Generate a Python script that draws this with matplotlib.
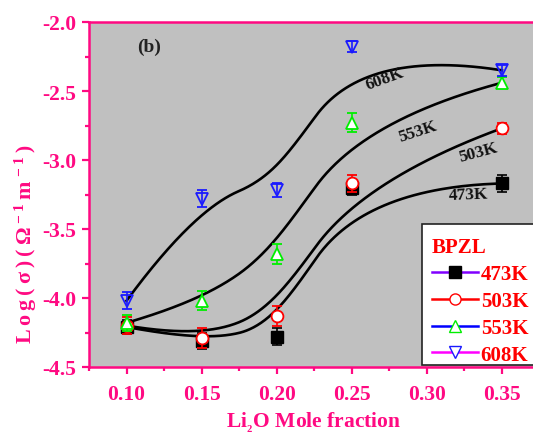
import numpy as np
import matplotlib
matplotlib.use("Agg")
import matplotlib.pyplot as plt
from matplotlib.lines import Line2D
from matplotlib.patches import Rectangle

# ---------------- data ----------------
x = [0.10, 0.15, 0.20, 0.25, 0.35]
y_473 = [-4.21, -4.31, -4.28, -3.20, -3.17]
y_503 = [-4.20, -4.29, -4.13, -3.17, -2.77]
y_553 = [-4.18, -4.02, -3.68, -2.73, -2.44]
y_608 = [-4.02, -3.28, -3.22, -2.18, -2.35]
err_473 = [0.05, 0.06, 0.06, 0.05, 0.06]
err_503 = [0.06, 0.07, 0.07, 0.06, 0.04]
err_553 = [0.06, 0.07, 0.07, 0.07, 0.04]
err_608 = [0.06, 0.06, 0.05, 0.04, 0.04]
labels = ["473K", "503K", "553K", "608K"]
xticks = [0.10, 0.15, 0.20, 0.25, 0.30, 0.35]
yticks = [-2.0, -2.5, -3.0, -3.5, -4.0, -4.5]

PINK = "#FF0A82"

plt.rcParams['font.family'] = ['Liberation Serif', 'DejaVu Serif']
plt.rcParams['font.weight'] = 'bold'
plt.rcParams['mathtext.fontset'] = 'custom'
plt.rcParams['mathtext.rm'] = 'Liberation Serif:bold'
plt.rcParams['mathtext.it'] = 'Liberation Serif:bold'
plt.rcParams['mathtext.bf'] = 'Liberation Serif:bold'


def bspline(px, py, k, n=300):
    """Clamped B-spline using the data points as control points."""
    P = np.column_stack([px, py])
    m = len(P)
    inner = np.linspace(0, 1, m - k + 1)[1:-1]
    t = np.concatenate([[0] * (k + 1), inner, [1] * (k + 1)])
    us = np.linspace(0, 1, n)
    out = []
    for u in us:
        N = np.zeros(len(t) - 1)
        for i in range(len(t) - 1):
            if t[i] <= u < t[i + 1] or (u == 1 and t[i] < t[i + 1] == 1):
                N[i] = 1.0
        for d in range(1, k + 1):
            Nn = np.zeros(len(t) - 1 - d)
            for i in range(len(Nn)):
                a = 0.0
                if t[i + d] != t[i]:
                    a = (u - t[i]) / (t[i + d] - t[i]) * N[i]
                b = 0.0
                if t[i + d + 1] != t[i + 1]:
                    b = (t[i + d + 1] - u) / (t[i + d + 1] - t[i + 1]) * N[i + 1]
                Nn[i] = a + b
            N = Nn
        out.append(N[:m] @ P)
    out = np.array(out)
    return out[:, 0], out[:, 1]


def smooth_curve(px, py):
    x2, y2 = bspline(px, py, 2)
    x3, y3 = bspline(px, py, 3)
    return 0.5 * (x2 + x3), 0.5 * (y2 + y3)


fig = plt.figure(figsize=(5.33, 4.35), dpi=100)
ax = fig.add_axes([89 / 533, (435 - 368) / 435, (533 - 89) / 533, (368 - 23) / 435])
ax.set_facecolor("#C0C0C0")

# fitted curves
for ys in [y_473, y_503, y_553, y_608]:
    cx, cy = smooth_curve(x, ys)
    ax.plot(cx, cy, color="black", lw=1.9, zorder=2)

# data points with error bars
ax.errorbar(x, y_473, yerr=err_473, fmt='s', ms=8, mfc='black', mec='black',
            ecolor='black', elinewidth=1.2, capsize=3.5, capthick=1.2, zorder=3)
ax.errorbar(x, y_503, yerr=err_503, fmt='o', ms=8.5, mfc='white', mec='red', mew=1.3,
            ecolor='red', elinewidth=1.2, capsize=3.5, capthick=1.2, zorder=4)
ax.errorbar(x, y_553, yerr=err_553, fmt='^', ms=9, mfc='white', mec='#00EE00', mew=1.3,
            ecolor='#00EE00', elinewidth=1.2, capsize=3.5, capthick=1.2, zorder=5)
ax.errorbar(x, y_608, yerr=err_608, fmt='v', ms=9, mfc='none', mec='#1A1AFF', mew=1.3,
            ecolor='#1A1AFF', elinewidth=1.2, capsize=3.5, capthick=1.2, zorder=6)

# curve labels
lab_kw = dict(fontsize=12.5, fontweight='bold', color='#111111', ha='center', va='center')
ax.text(0.272, -2.41, "608K", rotation=20, **lab_kw)
ax.text(0.294, -2.79, "553K", rotation=18, **lab_kw)
ax.text(0.334, -2.94, "503K", rotation=15, **lab_kw)
ax.text(0.328, -3.25, "473K", rotation=2, **lab_kw)
ax.text(0.115, -2.18, "(b)", fontsize=14, fontweight='bold', color='#222222',
        ha='center', va='center')

ax.set_xlim(0.075, 0.3707)
ax.set_ylim(-4.5, -2.0)
ax.set_xticks(xticks)
ax.set_xticklabels([f"{v:.2f}" for v in xticks])
ax.set_yticks(yticks)
ax.set_yticklabels([f"{v:.1f}" for v in yticks])
ax.set_xticks([0.075, 0.125, 0.175, 0.225, 0.275, 0.325], minor=True)
ax.set_yticks([-2.25, -2.75, -3.25, -3.75, -4.25], minor=True)

for s in ['left', 'bottom', 'top']:
    ax.spines[s].set_color(PINK)
    ax.spines[s].set_linewidth(1.8)
ax.spines['right'].set_visible(False)
ax.tick_params(axis='both', which='major', direction='out', length=5, width=1.6,
               color=PINK, labelcolor=PINK, labelsize=15.5, pad=4)
ax.tick_params(axis='both', which='minor', direction='out', length=3, width=1.6, color=PINK)
ax.tick_params(axis='x', which='major', pad=7.5)
for lab in ax.get_xticklabels() + ax.get_yticklabels():
    lab.set_fontweight('bold')

ax.set_xlabel(r"Li$_{_2}$O Mole fraction", fontsize=15.5, fontweight='bold', color=PINK)
ax.set_ylabel(r"$\mathrm{L\:o\:g\:(\:\sigma\:)\:(\:\Omega\:^{-\:1}\:m\:^{-\:1}\:)}$",
              fontsize=15.8, fontweight='bold', color=PINK)
ax.xaxis.set_label_coords(0.505, -0.125)
ax.yaxis.set_label_coords(-0.112, 0.36)

# legend frame (drawn separately so the padding matches)
frame = Rectangle((0.750, 0.006), 0.30, 0.4087, transform=ax.transAxes,
                  facecolor='white', edgecolor='#222222', lw=1.2, zorder=7)
ax.add_patch(frame)

handles = [
    Line2D([], [], color='#8000FF', lw=1.8, marker='s', ms=8, mfc='black', mec='black'),
    Line2D([], [], color='red', lw=1.8, marker='o', ms=8, mfc='white', mec='red'),
    Line2D([], [], color='blue', lw=1.8, marker='^', ms=9, mfc='white', mec='#00EE00'),
    Line2D([], [], color='#FF00FF', lw=1.8, marker='v', ms=9, mfc='white', mec='#1A1AFF'),
]
leg = ax.legend(handles, labels, title="BPZL", loc='upper left', bbox_to_anchor=(0.772, 0.376),
                borderaxespad=0.0, frameon=False, fontsize=15,
                title_fontsize=15, handlelength=2.2, handletextpad=0.15,
                labelspacing=0.33, borderpad=0.0, labelcolor='red', alignment='left')
leg.set_zorder(8)
leg.get_title().set_color('red')
leg.get_title().set_fontweight('bold')
for t in leg.get_texts():
    t.set_fontweight('bold')

fig.savefig("out.png", dpi=100)
